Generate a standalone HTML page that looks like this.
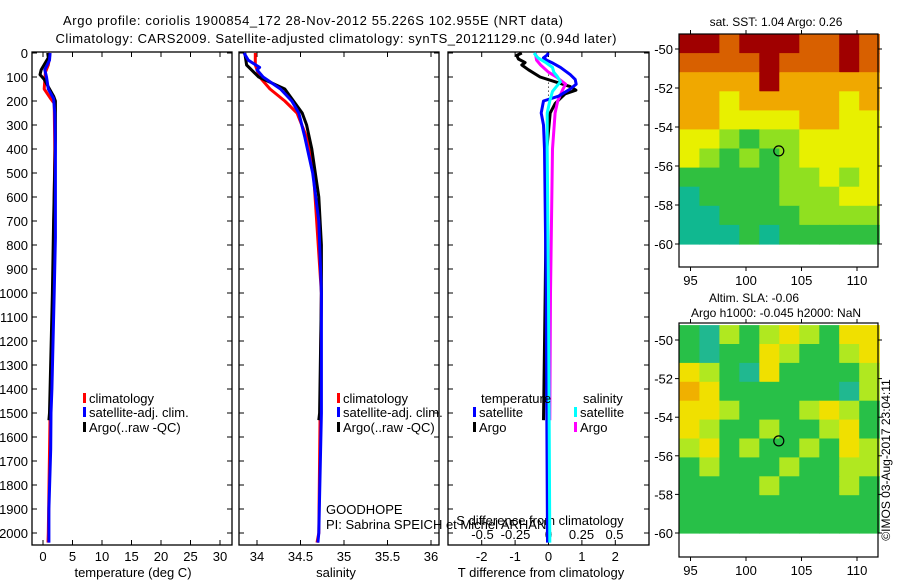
<!DOCTYPE html>
<html><head><meta charset="utf-8">
<style>
html,body{margin:0;padding:0;background:#fff;}
svg{display:block;font-family:"Liberation Sans",sans-serif;}
text{fill:#000;}
</style></head>
<body>
<svg id="chart" width="900" height="580" viewBox="0 0 900 580" xmlns="http://www.w3.org/2000/svg">
<text x="313" y="25" font-size="13" text-anchor="middle" textLength="500">Argo profile: coriolis 1900854_172 28-Nov-2012 55.226S 102.955E (NRT data)</text>
<text x="336" y="43" font-size="13" text-anchor="middle" textLength="561">Climatology: CARS2009. Satellite-adjusted climatology: synTS_20121129.nc (0.94d later)</text>
<g id="layer"></g>
</svg>
<script>
// ---------- data ----------
const depthTicks = [0,100,200,300,400,500,600,700,800,900,1000,1100,1200,1300,1400,1500,1600,1700,1800,1900,2000];
const tempTicks = [0,5,10,15,20,25,30];
const salTicks = [34,34.5,35,35.5,36];
const tdiffTicks = [-2,-1,0,1,2];
const sdiffTicks = [-0.5,-0.25,0,0.25,0.5];

const tClimDepth = [0,50,80,150,190,210,400,1000,1500,2000,2040];
const tClimVal   = [1.2,0.9,0.4,0.2,1.3,1.9,2.0,1.7,1.2,0.9,0.85];
const tSatDepth  = [0,30,70,100,150,190,250,400,770,1000,1400,1500,1650,1900,2040];
const tSatVal    = [1.2,1.1,0.3,0.6,0.9,1.8,2.0,2.1,2.1,1.9,1.5,1.35,1.3,1.0,1.0];
const tArgoDepth = [0,20,40,70,90,110,150,180,200,360,700,1000,1500,1530];
const tArgoVal   = [0.8,0.9,0.4,-0.3,-0.5,0.2,1.1,1.8,2.1,2.1,1.8,1.6,1.1,1.0];

const sClimDepth = [0,50,70,100,150,200,250,350,500,1000,2000,2040];
const sClimVal   = [33.98,33.98,34.0,34.03,34.15,34.32,34.46,34.57,34.65,34.74,34.71,34.69];
const sSatDepth  = [0,30,60,70,100,150,200,250,350,500,700,1000,1500,2000,2040];
const sSatVal    = [33.85,33.9,34.03,34.0,34.07,34.27,34.4,34.48,34.55,34.64,34.71,34.74,34.74,34.71,34.7];
const sArgoDepth = [0,50,100,150,200,250,300,400,500,600,800,1000,1500,1530];
const sArgoVal   = [33.86,33.88,34.02,34.32,34.42,34.52,34.57,34.63,34.67,34.71,34.74,34.74,34.72,34.71];

const dTArgoDepth = [0,10,25,40,50,70,100,120,140,155,170,190,210,250,400,1000,1530];
const dTArgoVal   = [-0.8,-0.95,-0.9,-0.7,-0.8,-0.6,-0.25,0.2,0.65,0.82,0.5,0.35,0.2,0.05,-0.05,-0.1,-0.15];
const dTSatDepth  = [0,10,20,30,40,60,90,110,130,150,180,200,250,300,400,1000,1500,2040];
const dTSatVal    = [0,-0.05,-0.15,-0.05,0.1,0.36,0.65,0.8,0.83,0.65,0.3,-0.15,-0.22,-0.15,-0.12,-0.07,-0.05,-0.03];
const dSSatDepth  = [0,20,40,60,80,100,120,140,160,200,250,400,1000,2040];
const dSSatVal    = [-0.11,-0.08,-0.02,0.03,0.04,0.07,0.09,0.06,0.03,0.01,-0.01,-0.01,0,0.01];
const dSArgoDepth = [0,30,50,80,100,130,150,200,250,400,1000,1530];
const dSArgoVal   = [-0.1,-0.09,-0.06,0,0.06,0.13,0.11,0.07,0.05,0.03,0.015,0.01];

const sstGrid = [
 [6,6,5,6,6,6,5,5,6,5],
 [5,5,5,5,6,5,5,5,6,5],
 [4,4,4,4,6,4,4,4,4,4],
 [4,4,3,4,4,4,4,4,3,4],
 [4,4,3,3,3,3,4,4,3,3],
 [3,3,2,1,2,2,3,3,3,3],
 [3,2,1,2,1,2,3,3,3,3],
 [1,1,1,1,1,2,2,3,2,3],
 [0,1,1,1,1,2,2,2,3,3],
 [0,0,1,1,1,1,2,2,2,2],
 [0,0,0,1,0,1,1,1,1,1]];
const slaGrid = [
 [1,0,2,1,2,3,2,1,3,3],
 [1,0,1,1,3,2,1,1,2,3],
 [3,2,1,0,3,1,1,1,1,2],
 [4,3,1,1,1,1,1,1,0,2],
 [3,3,2,1,1,1,2,3,2,1],
 [3,2,1,1,2,1,1,2,3,1],
 [2,3,1,2,1,1,2,1,3,2],
 [1,2,1,1,1,2,1,1,2,2],
 [1,1,1,1,2,1,1,1,2,1],
 [1,1,1,1,1,1,1,1,1,1],
 [1,1,1,1,1,1,1,1,1,1]];
const latTicks = [-50,-52,-54,-56,-58,-60];
const lonTicks = [95,100,105,110];
const argoLon = 102.955, argoLat = -55.226;

// ---------- scales ----------
const NS="http://www.w3.org/2000/svg";
const layer=document.getElementById('layer');
const yD = d => 53 + d*0.24;
const xT = t => 43 + t*5.9;
const xS = s => 257 + (s-34)*87;
const xdT = t => 548.5 + t*33.4;
const xdS = s => 548.5 + s*132;
const xLon = l => 746 + (l-100)*11.1;
const yLat1 = l => 49 + (-50-l)*19.5;
const yLat2 = l => 340 + (-50-l)*19.3;

function mk(tag, attrs, parent){
  const e=document.createElementNS(NS,tag);
  for(const k in attrs) e.setAttribute(k,attrs[k]);
  (parent||layer).appendChild(e);
  return e;
}
function txt(x,y,s,size,anchor,parent){
  const e=mk('text',{x:x,y:y,'font-size':size,'text-anchor':anchor||'middle'},parent);
  e.textContent=s;
  return e;
}

const panels=[{x0:32,x1:232,n:'temperature'},{x0:239,x1:439,n:'salinity'},{x0:448,x1:649,n:'difference'}];
panels.forEach(p=>{
  const r=mk('rect',{x:p.x0,y:52,width:p.x1-p.x0,height:493,fill:'none',stroke:'#000','stroke-width':1.3});
  
  
  depthTicks.forEach(d=>{
    const t1=mk('line',{x1:p.x0,x2:p.x0+5,y1:yD(d),y2:yD(d),stroke:'#000'});
    
    
    const t2=mk('line',{x1:p.x1,x2:p.x1-5,y1:yD(d),y2:yD(d),stroke:'#000'});
    
    
  });
});
depthTicks.forEach(d=>{
  const e=txt(28,yD(d)+5,String(d),13,'end');
  
  
});
function xTicks(ticks,fx,labelY){
  ticks.forEach(v=>{
    const x=fx(v);
    const a=mk('line',{x1:x,x2:x,y1:545,y2:540,stroke:'#000'});
    
    
    const b=mk('line',{x1:x,x2:x,y1:52,y2:57,stroke:'#000'});
    
    
    const l=txt(x,labelY,String(v),13);
    
    
  });
}
xTicks(tempTicks,xT,561);
xTicks(salTicks,xS,561);
xTicks(tdiffTicks,xdT,561);
sdiffTicks.forEach(v=>{
  const l=txt(xdS(v),539,String(v),13);
  
  
});
let at;
at=txt(133,577,'temperature (deg C)',13);  
at=txt(336,577,'salinity',13);  
at=txt(541,577,'T difference from climatology',13);  
at=txt(540,525,'S difference from climatology',13);  
at=txt(326,514,'GOODHOPE',13,'start');  
at=txt(326,529,'PI: Sabrina SPEICH et Michel ARHAN',13,'start');  

const zl=mk('line',{x1:xdT(0),x2:xdT(0),y1:yD(90),y2:yD(200),stroke:'#000','stroke-dasharray':'1,3'});



function series(depths,vals,fx,color,name,w){
  const pts=depths.map((d,i)=>fx(vals[i]).toFixed(1)+','+yD(d).toFixed(1)).join(' ');
  const e=mk('polyline',{points:pts,fill:'none',stroke:color,'stroke-width':w||3,'stroke-linejoin':'round'});
  
  
}
series(tClimDepth,tClimVal,xT,'#f00','temp-climatology-line');
series(tArgoDepth,tArgoVal,xT,'#000','temp-argo-line');
series(tSatDepth,tSatVal,xT,'#00f','temp-satellite-line');
series(sClimDepth,sClimVal,xS,'#f00','sal-climatology-line');
series(sArgoDepth,sArgoVal,xS,'#000','sal-argo-line');
series(sSatDepth,sSatVal,xS,'#00f','sal-satellite-line');
series(dTArgoDepth,dTArgoVal,xdT,'#000','tdiff-argo-line');
series(dSArgoDepth,dSArgoVal,xdS,'#f0f','sdiff-argo-line');
series(dTSatDepth,dTSatVal,xdT,'#00f','tdiff-satellite-line');
series(dSSatDepth,dSSatVal,xdS,'#0ff','sdiff-satellite-line');

function legendEntry(x,y,color,label){
  const r=mk('rect',{x:x,y:y-10,width:3,height:10,fill:color});
  
  
  const t=txt(x+6,y,label,13,'start');
  
  
}
legendEntry(83,403,'#f00','climatology');
legendEntry(83,417,'#00f','satellite-adj. clim.');
legendEntry(83,432,'#000','Argo(..raw -QC)');
legendEntry(337,403,'#f00','climatology');
legendEntry(337,417,'#00f','satellite-adj. clim.');
legendEntry(337,432,'#000','Argo(..raw -QC)');
at=txt(481,403,'temperature',13,'start');  
at=txt(583,403,'salinity',13,'start');  
legendEntry(473,417,'#00f','satellite');
legendEntry(473,432,'#000','Argo');
legendEntry(574,417,'#0ff','satellite');
legendEntry(574,432,'#f0f','Argo');

const sstColors=['#10b890','#30c040','#90e020','#e8f000','#f0a800','#d86000','#a00000'];
const slaColors=['#20b890','#28c048','#b0e820','#f0e000','#f0b000'];
function drawMap(grid,colors,fy,top,bottom,name){
  const rows=grid.length, cols=grid[0].length;
  const lonW=18/cols, latH=(60-49.23)/rows;
  grid.forEach((row,ri)=>{
    row.forEach((v,ci)=>{
      const x0=xLon(94+ci*lonW), x1=xLon(94+(ci+1)*lonW);
      const y0=fy(-49.23-ri*latH), y1=fy(-49.23-(ri+1)*latH);
      const c=mk('rect',{x:x0.toFixed(1),y:y0.toFixed(1),width:(x1-x0+0.6).toFixed(1),height:(y1-y0+0.6).toFixed(1),fill:colors[v]});
      
      
    });
  });
  const f=mk('rect',{x:679,y:top,width:199,height:bottom-top,fill:'none',stroke:'#000','stroke-width':1.2});
  
  
  latTicks.forEach(l=>{
    const y=fy(l);
    const a=mk('line',{x1:675,x2:679,y1:y,y2:y,stroke:'#000'});
    
    
    const b=mk('line',{x1:878,x2:882,y1:y,y2:y,stroke:'#000'});
    
    
    const t=txt(673,y+5,String(l),13,'end');
    
    
  });
  lonTicks.forEach(l=>{
    const x=xLon(l);
    const a=mk('line',{x1:x,x2:x,y1:top-4,y2:top,stroke:'#000'});
    
    
    const b=mk('line',{x1:x,x2:x,y1:bottom,y2:bottom+4,stroke:'#000'});
    
    
    const t=txt(x,bottom+18,String(l),13);
    
    
  });
  const c=mk('circle',{cx:xLon(argoLon),cy:fy(argoLat),r:5,fill:'none',stroke:'#000','stroke-width':1.2});
  
  
}
drawMap(sstGrid,sstColors,yLat1,34,267,'sst-map');
drawMap(slaGrid,slaColors,yLat2,323,557,'sla-map');
at=txt(776,26,'sat. SST: 1.04  Argo: 0.26',12);  
at=txt(754,302,'Altim. SLA: -0.06',12);  
at=txt(776,317,'Argo h1000: -0.045 h2000: NaN',12);  
at=txt(0,0,'©IMOS 03-Aug-2017 23:04:11',12); at.setAttribute('transform','translate(890,460) rotate(-90)');
 
</script>
</body></html>
